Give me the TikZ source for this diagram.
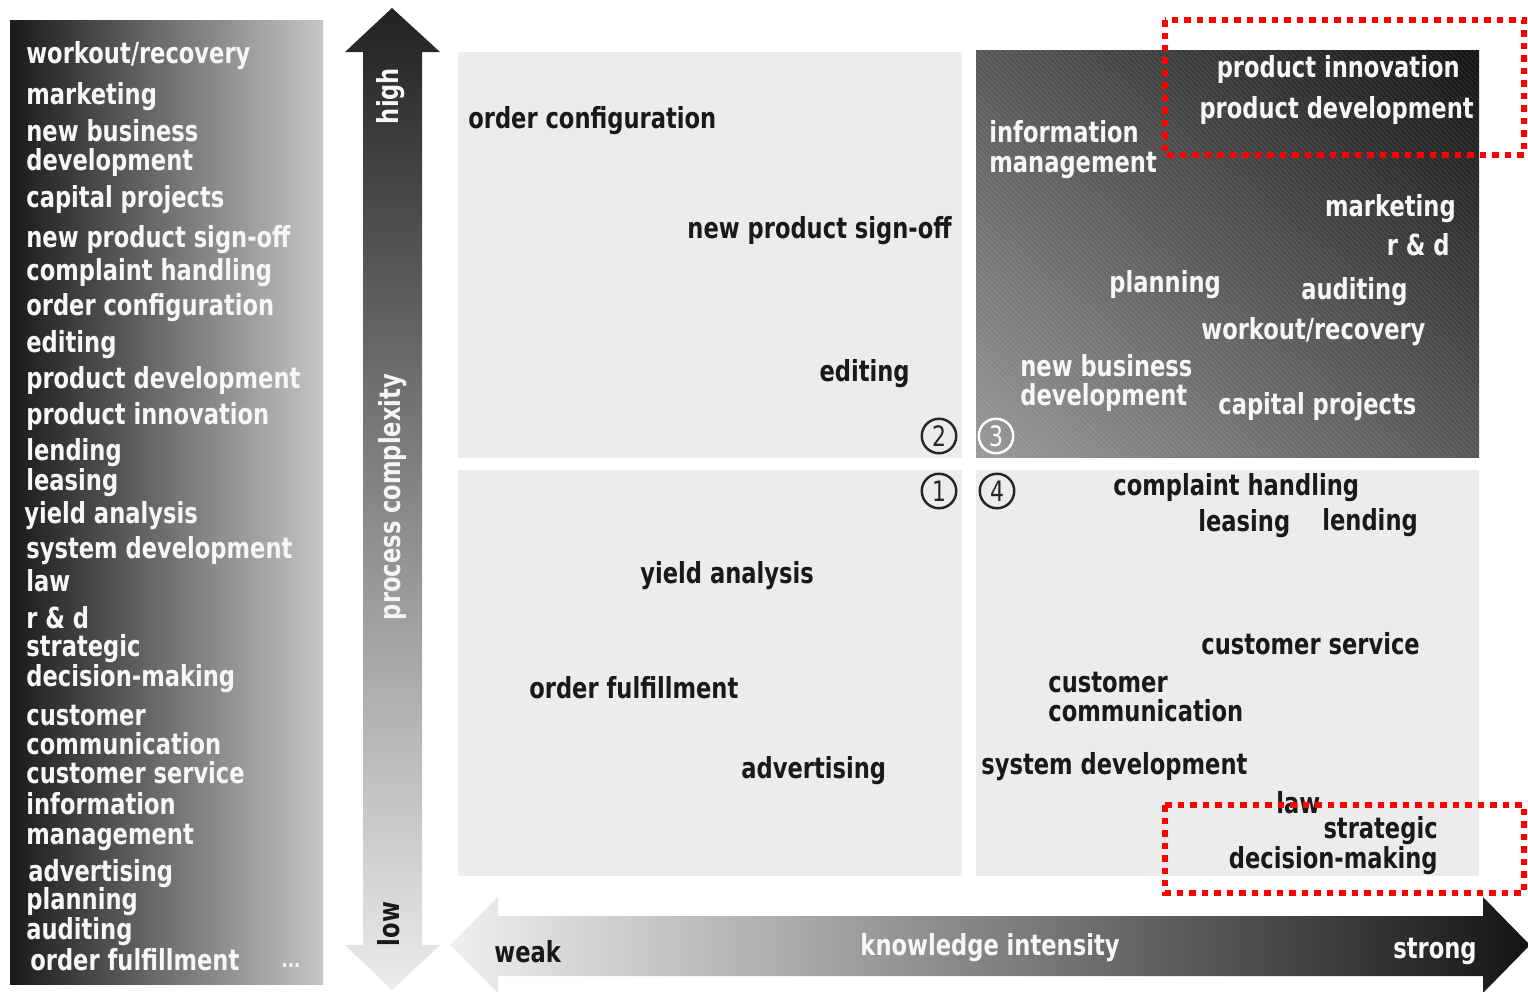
\documentclass[tikz,border=0pt]{standalone}
\usepackage{fontspec}
\usepackage{tikz}
\usetikzlibrary{shapes, arrows.meta, positioning, calc, shadings}
\newfontfamily\lblfont[FakeStretch=0.78]{DejaVu Sans}

\begin{document}
\begin{tikzpicture}[x=0.02cm, y=-0.02cm,
  lbl/.style={font=\lblfont\bfseries\fontsize{16.5}{17}\selectfont, inner sep=0pt, align=left, yshift=-0.06cm},
  wlbl/.style={lbl, text=white!97!black},
  blbl/.style={lbl, text=black!90},
  quad/.style={fill=gray!15, draw=none},
  num/.style={circle, draw=black!85, text=black!85, line width=1.4pt, minimum size=0.69cm, inner sep=0pt, font=\lblfont\fontsize{16}{16}\selectfont},
  reddot/.style={draw=red, line width=0.13cm, dash pattern=on 0.13cm off 0.12cm}]

        \useasboundingbox (0,0) rectangle (1528,991);
        \clip (0,0) rectangle (1528,991);

        % Left panel with the list of processes
        \shade[left color=black!90, middle color=gray!72, right color=gray!45] (10,20) rectangle (323,984);
        \node[wlbl, anchor=west] at (26,53) (list-1) {workout/recovery};
        \node[wlbl, anchor=west] at (26,94) (list-2) {marketing};
        \node[wlbl, anchor=west] at (26,145) (list-3) {new business\\development};
        \node[wlbl, anchor=west] at (26,197) (list-4) {capital projects};
        \node[wlbl, anchor=west] at (26,237) (list-5) {new product sign-off};
        \node[wlbl, anchor=west] at (26,270) (list-6) {complaint handling};
        \node[wlbl, anchor=west] at (26,305) (list-7) {order configuration};
        \node[wlbl, anchor=west] at (26,342) (list-8) {editing};
        \node[wlbl, anchor=west] at (26,377) (list-9) {product development};
        \node[wlbl, anchor=west] at (26,413) (list-10) {product innovation};
        \node[wlbl, anchor=west] at (26,465) (list-11) {lending\\leasing};
        \node[wlbl, anchor=west] at (24,513) (list-12) {yield analysis};
        \node[wlbl, anchor=west] at (26,548) (list-13) {system development};
        \node[wlbl, anchor=west] at (26,578) (list-14) {law};
        \node[wlbl, anchor=west] at (26,615) (list-15) {r \& d};
        \node[wlbl, anchor=west] at (26,661) (list-16) {strategic\\decision-making};
        \node[wlbl, anchor=west] at (26,727) (list-17) {customer\\communication};
        \node[wlbl, anchor=west] at (26,770) (list-18) {customer service};
        \node[wlbl, anchor=west] at (26,819) (list-19) {information\\management};
        \node[wlbl, anchor=west] at (28,871) (list-20) {advertising};
        \node[wlbl, anchor=west] at (26,914) (list-21) {planning\\auditing};
        \node[wlbl, anchor=west] at (30,957) (list-22) {order fulfillment};
        \node[wlbl, font=\lblfont\bfseries\fontsize{12}{12}\selectfont] at (291,962) (list-more) {...};

        % Vertical arrow: process complexity
        \shade[top color=black!87, bottom color=gray!15] (363,52) -- (345,52) -- (392,8) -- (440,52) -- (422,52) -- (422,945) -- (440,945) -- (392,990) -- (345,945) -- (363,945) -- cycle;
        \node[wlbl, rotate=90] at (391,93) (high) {high};
        \node[lbl, rotate=90, text=white!92!gray] at (393,494) (complexity) {process complexity};
        \node[blbl, rotate=90] at (389,921) (low) {low};

        % Horizontal arrow: knowledge intensity
        \shade[left color=gray!12, right color=black!92] (450,945) -- (498,897) -- (498,916) -- (1483,916) -- (1483,897) -- (1530,945) -- (1483,993) -- (1483,976) -- (498,976) -- (498,993) -- cycle;
        \node[blbl, anchor=west] at (494,949) (weak) {weak};
        \node[wlbl] at (990,945) (intensity) {knowledge intensity};
        \node[wlbl, anchor=east] at (1477,948) (strong) {strong};

        % Quadrants
        \fill[quad] (458,52) rectangle (962,458);
        \fill[quad] (458,470) rectangle (962,876);
        \fill[quad] (976,470) rectangle (1479,876);
        \shade[upper left=black!66, upper right=black!93, lower left=gray!80, lower right=black!66] (976,50) rectangle (1479,457);
        \begin{scope}
            \clip (976,50) rectangle (1479,457);
            \foreach \k in {569,574,...,1479} {
                \draw[white, opacity=0.1, line width=0.5pt] (\k,50) -- (\k+407,457);
            }
        \end{scope}

        % Quadrant 2
        \node[blbl, anchor=west] at (468,118) (q2-1) {order configuration};
        \node[blbl, anchor=east] at (952,228) (q2-2) {new product sign-off};
        \node[blbl, anchor=east] at (910,371) (q2-3) {editing};

        % Quadrant 3
        \node[wlbl, anchor=east] at (1460,66) (q3-1) {product innovation};
        \node[wlbl, anchor=east] at (1474,107) (q3-2) {product development};
        \node[wlbl, anchor=west] at (989,147) (q3-3) {information\\management};
        \node[wlbl, anchor=east] at (1456,206) (q3-4) {marketing};
        \node[wlbl, anchor=east] at (1450,242) (q3-5) {r \& d};
        \node[wlbl, anchor=west] at (1109,282) (q3-6) {planning};
        \node[wlbl, anchor=west] at (1301,289) (q3-7) {auditing};
        \node[wlbl, anchor=west] at (1201,329) (q3-8) {workout/recovery};
        \node[wlbl, anchor=west] at (1020,380) (q3-9) {new business\\development};
        \node[wlbl, anchor=west] at (1218,404) (q3-10) {capital projects};

        % Quadrant 1
        \node[blbl, anchor=west] at (640,573) (q1-1) {yield analysis};
        \node[blbl, anchor=west] at (529,685) (q1-2) {order fulfillment};
        \node[blbl, anchor=west] at (741,768) (q1-3) {advertising};

        % Quadrant 4
        \node[blbl, anchor=west] at (1113,485) (q4-1) {complaint handling};
        \node[blbl, anchor=west] at (1198,521) (q4-2) {leasing};
        \node[blbl, anchor=west] at (1322,520) (q4-3) {lending};
        \node[blbl, anchor=west] at (1201,641) (q4-4) {customer service};
        \node[blbl, anchor=west] at (1048,694) (q4-5) {customer\\communication};
        \node[blbl, anchor=west] at (981,764) (q4-6) {system development};
        \node[blbl, anchor=west] at (1276,800) (q4-7) {law};
        \node[blbl, anchor=east, align=right] at (1438,843) (q4-8) {strategic\\decision-making};

        % Quadrant numbers
        \node[num] at (939,491) (n1) {1};
        \node[num] at (939,436) (n2) {2};
        \node[num, draw=white, text=white] at (996,436) (n3) {3};
        \node[num] at (997,491) (n4) {4};

        % Red dotted frames
        \draw[reddot] (1165,20) rectangle (1524,155);
        \draw[reddot] (1165,805) rectangle (1524,893);

\end{tikzpicture}
\end{document}
